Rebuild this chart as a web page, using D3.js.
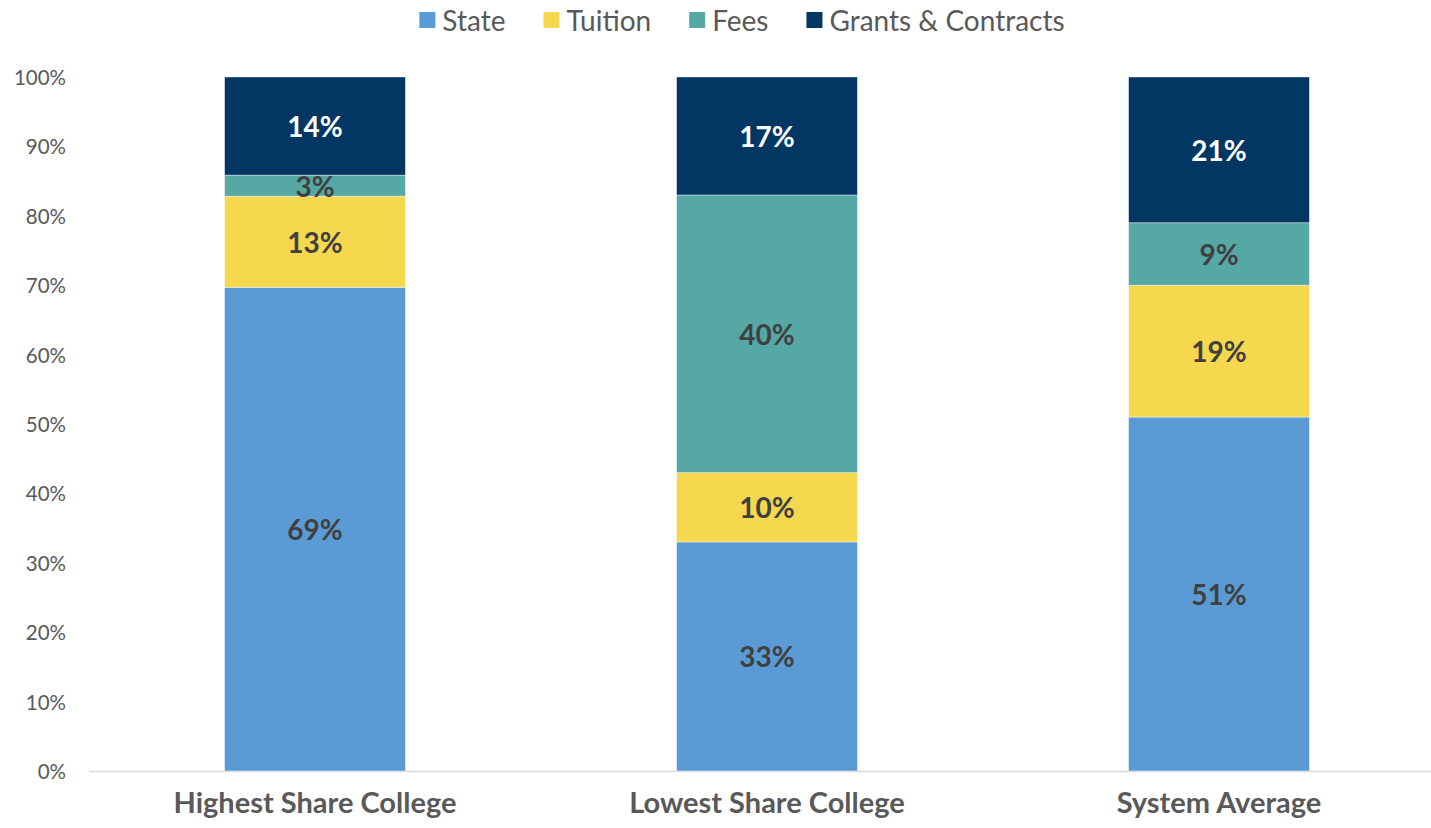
<!DOCTYPE html>
<html>
<head>
<meta charset="utf-8">
<script src="https://cdn.jsdelivr.net/npm/d3@7"></script>
<style>
  body { margin: 0; background: #fff; }
  svg { display: block; font-family: Lato, "Open Sans", sans-serif; }
</style>
</head>
<body>
<svg id="chart" width="1431" height="828"></svg>
<script>
const categories = ['Highest Share College', 'Lowest Share College', 'System Average'];
const seriesNames = ['State', 'Tuition', 'Fees', 'Grants & Contracts'];
const seriesColors = ['#5B9BD5', '#F6D84F', '#56A8A5', '#023663'];
const labelColors = ['#404040', '#404040', '#404040', '#ffffff'];
const stateVals = [69, 33, 51];
const tuitionVals = [13, 10, 19];
const feesVals = [3, 40, 9];
const grantsVals = [14, 17, 21];
const yTicks = [0, 10, 20, 30, 40, 50, 60, 70, 80, 90, 100];

const series = [stateVals, tuitionVals, feesVals, grantsVals];
const rows = categories.map((c, i) => {
  const r = { cat: c };
  seriesNames.forEach((s, j) => { r[s] = series[j][i]; });
  return r;
});

const svg = d3.select('#chart');
const margin = { left: 89, right: -14, top: 77, bottom: 57 };
const width = 1431, height = 828;

const x = d3.scaleBand()
  .domain(categories)
  .range([margin.left, width - margin.right])
  .paddingInner(0.6)
  .paddingOuter(0.3);

const y = d3.scaleLinear().domain([0, 1]).range([height - margin.bottom, margin.top]);

// 100% stacked
const stack = d3.stack().keys(seriesNames).offset(d3.stackOffsetExpand);
const stacked = stack(rows);

// y tick labels
svg.append('g').selectAll('text')
  .data(yTicks)
  .join('text')
  .attr('x', 66)
  .attr('y', d => y(d / 100))
  .attr('text-anchor', 'end')
  .attr('dominant-baseline', 'central')
  .attr('font-size', 20.5)
  .attr('fill', '#595959')
  .text(d => d + '%');

// baseline
svg.append('line')
  .attr('x1', margin.left).attr('x2', width)
  .attr('y1', y(0) + 0.5).attr('y2', y(0) + 0.5)
  .attr('stroke', '#d9d9d9').attr('stroke-width', 1.5);

const layers = svg.append('g').selectAll('g')
  .data(stacked)
  .join('g')
  .attr('fill', (d, i) => seriesColors[i]);

layers.selectAll('rect')
  .data(d => d)
  .join('rect')
  .attr('x', d => x(d.data.cat))
  .attr('width', x.bandwidth())
  .attr('y', d => y(d[1]))
  .attr('height', d => y(d[0]) - y(d[1]))
  .attr('stroke', 'rgba(255,255,255,0.5)')
  .attr('stroke-width', 0.8);

// value labels
svg.append('g').selectAll('g')
  .data(stacked)
  .join('g')
  .each(function (layer, i) {
    d3.select(this).selectAll('text')
      .data(layer)
      .join('text')
      .attr('x', d => x(d.data.cat) + x.bandwidth() / 2)
      .attr('y', d => (y(d[0]) + y(d[1])) / 2)
      .attr('text-anchor', 'middle')
      .attr('dominant-baseline', 'central')
      .attr('font-size', 28)
      .attr('font-weight', 'bold')
      .attr('fill', labelColors[i])
      .text(d => d.data[layer.key] + '%');
  });

// category labels
svg.append('g').selectAll('text')
  .data(categories)
  .join('text')
  .attr('x', d => x(d) + x.bandwidth() / 2)
  .attr('y', 813)
  .attr('text-anchor', 'middle')
  .attr('font-size', 29)
  .attr('font-weight', 'bold')
  .attr('fill', '#595959')
  .text(d => d);

// legend
const legend = svg.append('g');
const items = legend.selectAll('g')
  .data(seriesNames)
  .join('g');
items.append('rect')
  .attr('width', 16).attr('height', 16)
  .attr('y', 12)
  .attr('fill', (d, i) => seriesColors[i]);
items.append('text')
  .attr('x', 23).attr('y', 20)
  .attr('dominant-baseline', 'central')
  .attr('font-size', 28)
  .attr('fill', '#595959')
  .text(d => d);
let lx = 0;
items.each(function () {
  const w = this.getBBox().width;
  d3.select(this).attr('transform', `translate(${lx},0)`);
  lx += w + 38;
});
const totalW = lx - 38;
legend.attr('transform', `translate(${742 - totalW / 2},0)`);
</script>
</body>
</html>
